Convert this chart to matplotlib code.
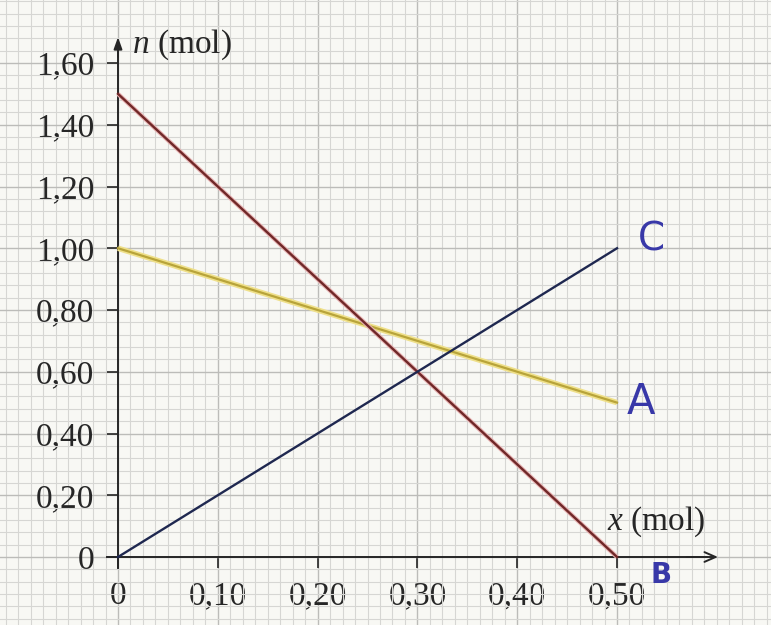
import numpy as np
import matplotlib
matplotlib.use('Agg')
import matplotlib.pyplot as plt
from matplotlib.ticker import MultipleLocator, FixedLocator, FixedFormatter

# values
x_pts = [0.0, 0.5]
n_A = [1.00, 0.50]
n_B = [1.50, 0.00]
n_C = [0.00, 1.00]

x_ticks = [0.0, 0.1, 0.2, 0.3, 0.4, 0.5]
x_labels = ['0', '0,10', '0,20', '0,30', '0,40', '0,50']
y_ticks = [0.0, 0.2, 0.4, 0.6, 0.8, 1.0, 1.2, 1.4, 1.6]
y_labels = ['0', '0,20', '0,40', '0,60', '0,80', '1,00', '1,20', '1,40', '1,60']

serif = 'Liberation Serif'
ink = '#262626'
hand = '#3838a8'

plt.rcParams['mathtext.fontset'] = 'custom'
plt.rcParams['mathtext.rm'] = serif
plt.rcParams['mathtext.it'] = serif + ':italic'


def main():
    fig = plt.figure(figsize=(7.71, 6.25), dpi=100)
    fig.patch.set_facecolor('#f8f8f4')
    ax = fig.add_axes([0, 0, 1, 1])
    ax.set_facecolor('#f8f8f4')
    ax.set_xlim(-0.11824, 0.65431)
    ax.set_ylim(-0.22024, 1.80405)

    # graph paper
    ax.xaxis.set_minor_locator(MultipleLocator(0.0125))
    ax.yaxis.set_minor_locator(MultipleLocator(0.04))
    ax.grid(True, which='minor', color='#d6d6d3', lw=0.8, zorder=0)
    ax.grid(True, which='major', color='#bcbcb9', lw=1.0, zorder=0)
    ax.set_axisbelow(True)
    ax.tick_params(which='minor', length=0)

    # axes through origin
    for s in ['top', 'right']:
        ax.spines[s].set_visible(False)
    ax.spines['left'].set_position(('data', 0))
    ax.spines['bottom'].set_position(('data', 0))
    ax.spines['left'].set_bounds(-0.035, 1.66)
    ax.spines['bottom'].set_bounds(-0.011, 0.59)
    for s in ['left', 'bottom']:
        ax.spines[s].set_color(ink)
        ax.spines[s].set_linewidth(1.4)

    ax.xaxis.set_major_locator(FixedLocator(x_ticks))
    ax.xaxis.set_major_formatter(FixedFormatter(x_labels))
    ax.yaxis.set_major_locator(FixedLocator(y_ticks))
    ax.yaxis.set_major_formatter(FixedFormatter(y_labels))
    ax.tick_params(axis='both', which='major', direction='out', length=8, width=1.2,
                   pad=9, labelsize=24, colors=ink)
    for lb in ax.get_xticklabels() + ax.get_yticklabels():
        lb.set_fontfamily(serif)

    # arrows
    ax.annotate('', xy=(0, 1.684), xytext=(0, 1.62),
                arrowprops=dict(arrowstyle='-|>,head_length=0.7,head_width=0.25',
                                color=ink, lw=1.4, shrinkA=0, shrinkB=0))
    ax.annotate('', xy=(0.6012, 0), xytext=(0.57, 0),
                arrowprops=dict(arrowstyle='->,head_length=0.8,head_width=0.35',
                                color=ink, lw=1.4, shrinkA=0, shrinkB=0))

    # lines
    ax.plot(x_pts, n_A, color='#efe08a', lw=4.0, solid_capstyle='butt', zorder=3)
    ax.plot(x_pts, n_A, color='#b8a43a', lw=1.6, zorder=3)
    ax.plot(x_pts, n_B, color='#e8b4b4', lw=3.2, solid_capstyle='butt', zorder=3)
    ax.plot(x_pts, n_B, color='#702828', lw=1.7, zorder=3)
    ax.plot(x_pts, n_C, color='#1f2850', lw=1.7, zorder=3)

    # axis names
    ax.text(0.014, 1.658, r'$n$ (mol)', fontsize=24, fontfamily=serif,
            ha='left', va='center', color=ink)
    ax.text(0.49, 0.113, r'$x$ (mol)', fontsize=24, fontfamily=serif,
            ha='left', va='center', color=ink)

    # handwritten labels
    ax.text(0.535, 1.027, 'C', fontsize=28, color=hand, ha='center', va='center',
            fontfamily='DejaVu Sans')
    ax.text(0.524, 0.502, 'A', fontsize=30, color=hand, ha='center', va='center',
            fontfamily='DejaVu Sans')
    ax.text(0.544, -0.058, 'B', fontsize=20, color=hand, ha='center', va='center',
            fontfamily='DejaVu Sans', fontweight='bold')

    fig.savefig('out.png', dpi=100, facecolor=fig.get_facecolor())


if __name__ == '__main__':
    main()
